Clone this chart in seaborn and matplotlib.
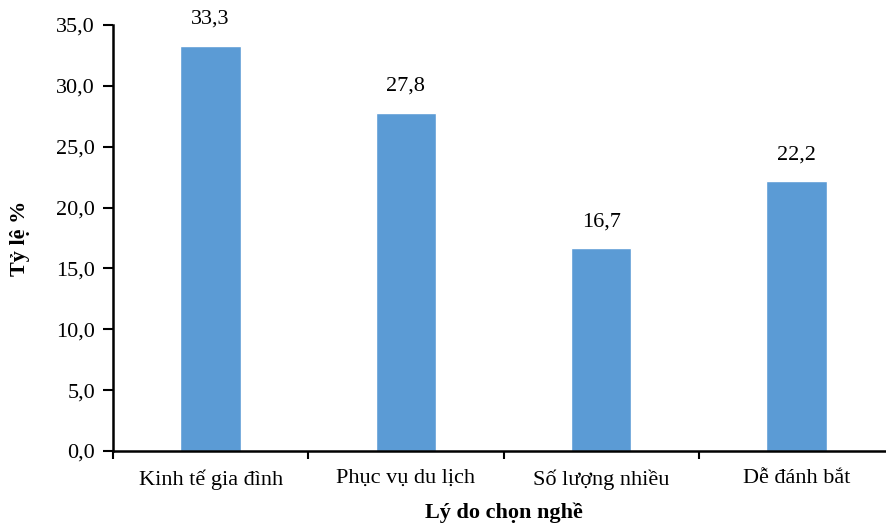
import numpy as np
import pandas as pd
import seaborn as sns
import matplotlib.pyplot as plt
from matplotlib.ticker import FuncFormatter, FixedLocator

categories = ["Kinh tế gia đình", "Phục vụ du lịch", "Số lượng nhiều", "Dễ đánh bắt"]
values = [33.3, 27.8, 16.7, 22.2]
y_ticks = [0, 5, 10, 15, 20, 25, 30, 35]

df = pd.DataFrame({"reason": categories, "pct": values})

sns.set_theme(style="white")
plt.rcParams["font.family"] = ["Liberation Serif", "DejaVu Serif"]

fig = plt.figure(figsize=(8.87, 5.24), dpi=100)
ax = fig.add_axes([113 / 887, 1 - 451 / 524, 1 - 113 / 887 + 0.008, (451 - 25) / 524])

sns.barplot(data=df, x="reason", y="pct", color="#5B9BD5", width=0.31,
            saturation=1, ax=ax)

def comma(v, pos=None):
    return f"{v:.1f}".replace(".", ",")

for p, v in zip(ax.patches, values):
    ax.annotate(comma(v), (p.get_x() + p.get_width() / 2, p.get_height()),
                xytext=(0, 12), textcoords="offset points",
                ha="center", va="bottom", fontsize=16, color="black")

ax.set_ylim(0, 35)
ax.set_xlim(-0.5, len(categories) - 0.5)
ax.set_yticks(y_ticks)
ax.yaxis.set_major_formatter(FuncFormatter(comma))

ax.set_xticks(range(len(categories)))
ax.set_xticklabels(categories)
ax.xaxis.set_minor_locator(FixedLocator(np.arange(-0.5, len(categories), 1.0)))
ax.tick_params(axis="x", which="major", length=0, pad=13, labelsize=16, colors="black")
ax.tick_params(axis="x", which="minor", bottom=True, length=6, width=1.5, direction="out", color="black")
ax.tick_params(axis="y", left=True, length=7, width=1.5, direction="out",
               pad=6, labelsize=16, colors="black")

for s in ["top", "right"]:
    ax.spines[s].set_visible(False)
for s in ["left", "bottom"]:
    ax.spines[s].set_color("black")
    ax.spines[s].set_linewidth(1.8)

ax.set_xlabel("Lý do chọn nghề", fontsize=16, fontweight="bold", labelpad=9, color="black")
ax.set_ylabel("Tỷ lệ %", fontsize=16, fontweight="bold", labelpad=19, color="black")

fig.savefig("out.png", dpi=100)
